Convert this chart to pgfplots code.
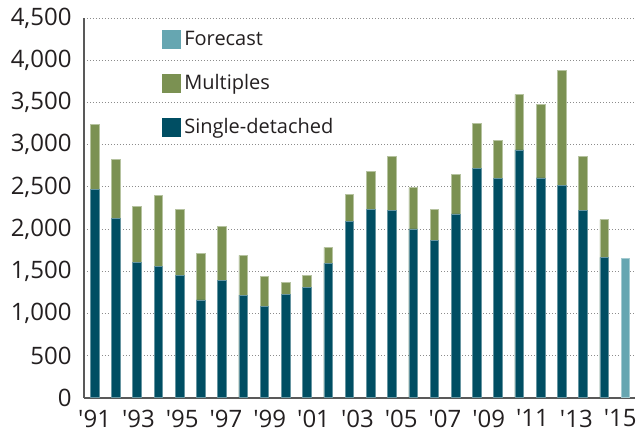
\documentclass[border=0pt]{standalone}
\usepackage{pgfplots}
\pgfplotsset{compat=1.18}
\usepackage{pgfplotstable}
\usepackage{fontspec}
\setmainfont{Open Sans}
\definecolor{single}{RGB}{0,78,99}
\definecolor{multi}{RGB}{123,145,82}
\definecolor{fcast}{RGB}{102,166,177}
\definecolor{txt}{RGB}{35,31,32}
\newcommand{\q}{\textquotesingle}
\pgfplotstableread{
x single multi
0 2467 776
1 2131 700
2 1606 659
3 1554 846
4 1447 791
5 1159 549
6 1388 640
7 1218 471
8 1079 364
9 1230 134
10 1313 138
11 1594 189
12 2087 329
13 2234 451
14 2226 640
15 2001 490
16 1862 368
17 2179 466
18 2716 538
19 2597 456
20 2938 660
21 2606 874
22 2514 1364
23 2218 640
24 1665 446
}\housing
\begin{document}
\begin{tikzpicture}
\begin{axis}[
  scale only axis,
  width=275.5pt, height=189.7pt,
  xmin=-0.5, xmax=25.45,
  ymin=0, ymax=4500,
  ytick={0,500,...,4500},
  xtick={0,2.0625,4.125,6.1875,8.25,10.3125,12.375,14.4375,16.5,18.5625,20.625,22.6875,24.75},
  xticklabels={\q91,\q93,\q95,\q97,\q99,\q01,\q03,\q05,\q07,\q09,\q11,\q13,\q15},
  /pgf/number format/assume math mode=true,
  /pgf/number format/1000 sep={,},
  scaled y ticks=false,
  major tick length=0pt,
  axis x line*=bottom, axis y line*=left,
  x axis line style={line width=1.1pt, color=black!65, -},
  y axis line style={line width=0.6pt, color=black!65, -},
  ymajorgrids,
  major grid style={line width=0.5pt, color=black!45, dash pattern=on 0.6pt off 0.9pt},
  ticklabel style={font=\fontsize{12}{14}\selectfont, text=txt},
  yticklabel style={xshift=-2.7pt},
  xticklabel style={yshift=-2.5pt},
  ybar, bar width=4.3pt, bar shift=0pt,
  legend style={at={(rel axis cs:0.14,0.97)}, anchor=north west, draw=none, fill=none,
    inner sep=0pt, row sep=12.5pt, font=\fontsize{10}{12}\selectfont, text=txt,
    nodes={inner xsep=2pt, inner ysep=0pt, text height=7.5pt, text depth=2pt}},
  legend cell align=left,
  clip=false,
]
\addplot[fill=multi, draw=multi!55!white, line width=0.3pt, forget plot]
  table[x=x, y expr=\thisrow{single}+\thisrow{multi}] {\housing};
\addplot[fill=single, draw=single!60!white, line width=0.3pt, forget plot]
  table[x=x, y=single] {\housing};
\addplot[fill=fcast, draw=fcast!60!white, line width=0.3pt, forget plot]
  coordinates {(25,1653)};
\addlegendimage{legend image code/.code={\fill[fcast] (0pt,-4.5pt) rectangle (9pt,4.5pt);}}
\addlegendentry{Forecast}
\addlegendimage{legend image code/.code={\fill[multi] (0pt,-4.5pt) rectangle (9pt,4.5pt);}}
\addlegendentry{Multiples}
\addlegendimage{legend image code/.code={\fill[single] (0pt,-4.5pt) rectangle (9pt,4.5pt);}}
\addlegendentry{Single-detached}
\coordinate (bl) at (rel axis cs:0,0);
\coordinate (tr) at (rel axis cs:1,1);
\end{axis}
\pgfresetboundingbox
\path ([xshift=-42pt,yshift=-18.15pt]bl) rectangle ([xshift=3pt,yshift=9.15pt]tr);
\end{tikzpicture}
\end{document}
